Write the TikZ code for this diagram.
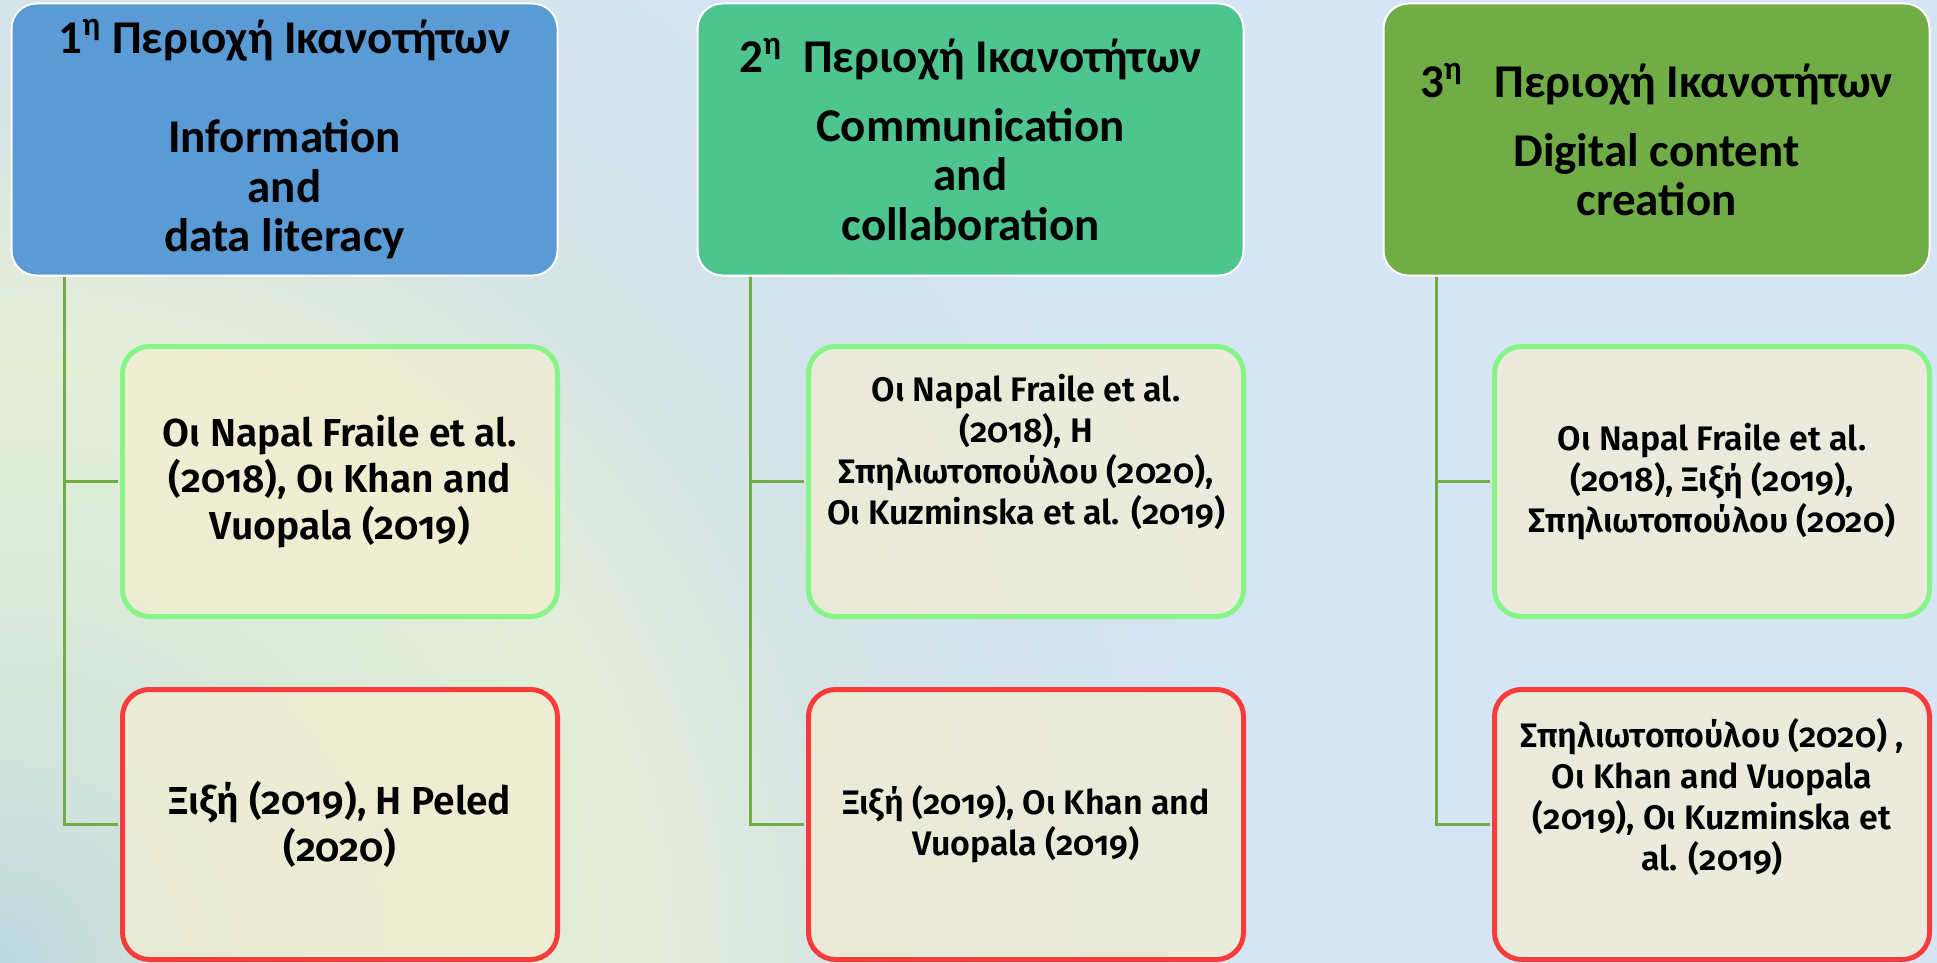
\documentclass[tikz,border=0pt]{standalone}
\usepackage{fontspec}
\setmainfont{Carlito}
\newfontfamily\citefont{Fira Sans SemiBold}[Numbers=OldStyle]
\usetikzlibrary{positioning}

% palette
\definecolor{hdrblue}{HTML}{5B9BD5}
\definecolor{hdrteal}{HTML}{4EC58F}
\definecolor{hdrgreen}{HTML}{70AD47}
\definecolor{linkgreen}{HTML}{70AD47}
\definecolor{okgreen}{HTML}{86F486}
\definecolor{badred}{HTML}{F83C3C}
\definecolor{cream}{HTML}{F5EFD0}
\definecolor{bgA}{HTML}{BCD7E0}
\definecolor{bgB}{HTML}{CCE0DC}
\definecolor{bgC}{HTML}{DCEADA}
\definecolor{bgD}{HTML}{E3EED9}
\definecolor{bgE}{HTML}{DFEADD}
\definecolor{bgF}{HTML}{D6E4E4}
\definecolor{bgG}{HTML}{D3E3EA}
\definecolor{bgH}{HTML}{D6E5F3}

\begin{document}
\begin{tikzpicture}[x=0.5pt,y=-0.5pt,
  hdr/.style={draw=white, line width=1pt, rounded corners=12.5pt,
    minimum width=273pt, minimum height=136pt, inner sep=0pt,
    align=center, font=\fontsize{23.5pt}{24.75pt}\selectfont\bfseries},
  cite/.style={draw, line width=2.5pt, rounded corners=13.5pt,
    minimum width=217.5pt, minimum height=135pt, inner sep=0pt,
    fill=cream, fill opacity=0.65, text opacity=1, align=center},
  okbox/.style={cite, draw=okgreen},
  badbox/.style={cite, draw=badred},
  bigcite/.style={font=\citefont\fontsize{19.5pt}{23.25pt}\selectfont},
  smallcite/.style={font=\citefont\fontsize{17pt}{20.5pt}\selectfont},
  conn/.style={draw=linkgreen, line width=1.5pt, shorten >=1.2pt}]

\useasboundingbox (0,0) rectangle (1937,963);

% soft backdrop: concentric rings around the lower left corner
\begin{scope}
  \clip (0,0) rectangle (1937,963);
  \foreach \ra/\rb/\ca/\cb in {1300/2200/bgH/bgH, 1000/1300/bgG/bgH,
      850/1000/bgF/bgG, 720/850/bgE/bgF, 600/720/bgD/bgE,
      400/600/bgC/bgD, 130/400/bgB/bgC, 0/130/bgA/bgB} {
    \foreach \k in {0,...,15} {
      \pgfmathsetmacro\rad{\rb-(\rb-\ra)*\k/16}
      \pgfmathsetmacro\pct{100*(16-\k)/16}
      \colorlet{ringcol}{\cb!\pct!\ca}
      \fill[ringcol] (0,963) circle[radius=\rad];
    }
  }
\end{scope}

% competence areas
\node[hdr, fill=hdrblue] (h1) at (284.5,139.5)
  {1\textsuperscript{η} Περιοχή Ικανοτήτων\\[24.75pt]
   Information\\ and\\ data literacy};
\node[hdr, fill=hdrteal] (h2) at (970.5,139.5)
  {2\textsuperscript{η}\ \ Περιοχή Ικανοτήτων\\[9.75pt]
   Communication\\ and\\ collaboration};
\node[hdr, fill=hdrgreen] (h3) at (1656.5,139.5)
  {3\textsuperscript{η}\ \ \ Περιοχή Ικανοτήτων\\[9.75pt]
   Digital content\\ creation};

% studies per area
\node[okbox, bigcite] (g1) at (340,481.5)
  {Οι Napal Fraile et al.\\ (2018), Οι Khan and\\ Vuopala (2019)};
\node[badbox, bigcite] (r1) at (340,824.5)
  {Ξιξή (2019), Η Peled\\ (2020)};

\node[okbox, smallcite] (g2) at (1026,481.5)
  {Οι Napal Fraile et al.\\ (2018), Η\\ Σπηλιωτοπούλου (2020),\\
   Οι Kuzminska et al. (2019)\\[12pt]\mbox{}};
\node[badbox, smallcite] (r2) at (1026,824.5)
  {Ξιξή (2019), Οι Khan and\\ Vuopala (2019)};

\node[okbox, smallcite] (g3) at (1712,481.5)
  {Οι Napal Fraile et al.\\ (2018), Ξιξή (2019),\\ Σπηλιωτοπούλου (2020)};
\node[badbox, smallcite] (r3) at (1712,824.5)
  {Σπηλιωτοπούλου (2020) ,\\ Οι Khan and Vuopala\\ (2019), Οι Kuzminska et\\
   al. (2019)\\[10pt]\mbox{}};

% tree connectors
\foreach \i in {1,2,3} {
  \draw[conn] ([xshift=27pt]h\i.south west) |- (g\i.west);
  \draw[conn] ([xshift=27pt]h\i.south west) |- (r\i.west);
}
\end{tikzpicture}
\end{document}
